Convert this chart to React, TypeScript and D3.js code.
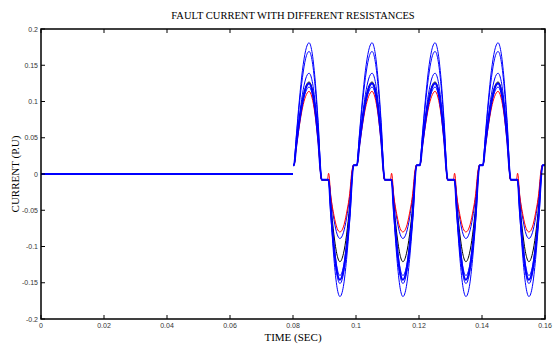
import React from 'react';
import * as d3 from 'd3';

// one cycle of the fault current (ms after each cycle start)
const phaseMs = [0, 0.3, 1, 2, 3, 4, 5.1, 6, 7, 8, 9.1, 11.3, 12, 13, 14, 14.9, 16, 17, 18, 19.2];
const phaseRedMs = [0, 0.3, 1, 2, 3, 4, 5.1, 6, 7, 8, 9.1, 10.9, 11.3, 12, 13, 14, 14.9, 16, 17, 18, 18.7, 19.2];

const curveA = [0.012, 0.012, 0.05, 0.101, 0.143, 0.17, 0.181, 0.169, 0.131, 0.071, -0.008, -0.008, -0.056, -0.117, -0.157, -0.169, -0.155, -0.118, -0.065, 0.012];
const curveB = [0.012, 0.012, 0.048, 0.095, 0.133, 0.159, 0.169, 0.158, 0.122, 0.066, -0.008, -0.008, -0.051, -0.105, -0.14, -0.151, -0.138, -0.105, -0.057, 0.012];
const curveC = [0.012, 0.012, 0.041, 0.079, 0.11, 0.131, 0.139, 0.13, 0.1, 0.053, -0.008, -0.008, -0.048, -0.097, -0.13, -0.14, -0.128, -0.097, -0.052, 0.012];
const curveBlack = [0.012, 0.012, 0.038, 0.073, 0.101, 0.12, 0.127, 0.119, 0.091, 0.048, -0.008, -0.008, -0.042, -0.084, -0.112, -0.121, -0.11, -0.084, -0.044, 0.012];
const curveE = [0.012, 0.012, 0.037, 0.069, 0.096, 0.113, 0.12, 0.112, 0.086, 0.046, -0.008, -0.008, -0.032, -0.063, -0.083, -0.089, -0.081, -0.061, -0.031, 0.012];
const curveRed = [0.012, 0.012, 0.035, 0.066, 0.091, 0.107, 0.114, 0.106, 0.082, 0.043, -0.008, -0.008, 0.001, -0.03, -0.057, -0.075, -0.08, -0.073, -0.054, -0.027, 0.004, 0.012];
const curveThick = [0.012, 0.012, 0.038, 0.072, 0.099, 0.118, 0.125, 0.117, 0.09, 0.048, -0.008, -0.008, -0.05, -0.101, -0.136, -0.146, -0.133, -0.102, -0.055, 0.012];

const faultTime = 0.08;
const cycleStarts = [0.08, 0.1, 0.12, 0.14];
const endTime = 0.16;

const xTicks = [0, 0.02, 0.04, 0.06, 0.08, 0.1, 0.12, 0.14, 0.16];
const yTicks = [0.2, 0.15, 0.1, 0.05, 0, -0.05, -0.1, -0.15, -0.2];

const series = [
  { values: curveA, phase: phaseMs, color: '#0000ff', width: 1 },
  { values: curveB, phase: phaseMs, color: '#0000ff', width: 1 },
  { values: curveC, phase: phaseMs, color: '#0000ff', width: 1 },
  { values: curveE, phase: phaseMs, color: '#0000ff', width: 1 },
  { values: curveBlack, phase: phaseMs, color: '#000000', width: 1 },
  { values: curveRed, phase: phaseRedMs, color: '#ff0000', width: 1 },
  { values: curveThick, phase: phaseMs, color: '#0000ff', width: 2 },
];

const W = 554;
const H = 345;
const margin = { top: 29, right: 9, bottom: 26, left: 41 };

export default function App() {
  const x = d3.scaleLinear().domain([0, 0.16]).range([margin.left, W - margin.right]);
  const y = d3.scaleLinear().domain([-0.2, 0.2]).range([H - margin.bottom, margin.top]);

  const line = d3.line<[number, number]>()
    .x(d => x(d[0]))
    .y(d => y(d[1]))
    .curve(d3.curveMonotoneX);

  const preFault = d3.line<[number, number]>().x(d => x(d[0])).y(d => y(d[1]))([[0, 0], [faultTime, 0]]);

  const buildPoints = (values: number[], phase: number[]) => {
    const pts: [number, number][] = [];
    cycleStarts.forEach(s => {
      phase.forEach((p, i) => pts.push([s + p / 1000, values[i]]));
    });
    pts.push([endTime, values[0]]);
    return pts;
  };

  const x0 = x(0), x1 = x(0.16), y0 = y(-0.2), y1 = y(0.2);
  const tickLen = 4;
  const tickFont = { fontFamily: 'Liberation Sans, Arial, sans-serif', fontSize: 7, fill: '#333' };
  const serif = { fontFamily: 'Liberation Serif, Times New Roman, serif', fontSize: 11 };

  return (
    <div style={{ position: 'fixed', left: 0, top: 0 }}>
      <svg width={W} height={H} style={{ display: 'block', background: '#fff' }}>
        <text x={(x0 + x1) / 2} y={19} textAnchor="middle" style={{ ...serif, fontSize: 10.5 }}>
          FAULT CURRENT WITH DIFFERENT RESISTANCES
        </text>

        {/* traces */}
        <path d={preFault || ''} fill="none" stroke="#0000ff" strokeWidth={2} />
        {series.map((s, i) => (
          <path key={i} d={line(buildPoints(s.values, s.phase)) || ''}
            fill="none" stroke={s.color} strokeWidth={s.width} strokeLinejoin="round" />
        ))}

        {/* box */}
        <rect x={x0} y={y1} width={x1 - x0} height={y0 - y1} fill="none" stroke="#000" strokeWidth={1.5} />

        {xTicks.map(t => (
          <g key={'x' + t}>
            <line x1={x(t)} x2={x(t)} y1={y0} y2={y0 - tickLen} stroke="#000" strokeWidth={1} />
            <line x1={x(t)} x2={x(t)} y1={y1} y2={y1 + tickLen} stroke="#000" strokeWidth={1} />
            <text x={x(t)} y={y0 + 8.5} textAnchor="middle" style={tickFont}>{String(t)}</text>
          </g>
        ))}
        {yTicks.map(t => (
          <g key={'y' + t}>
            <line x1={x0} x2={x0 + tickLen} y1={y(t)} y2={y(t)} stroke="#000" strokeWidth={1} />
            <line x1={x1} x2={x1 - tickLen} y1={y(t)} y2={y(t)} stroke="#000" strokeWidth={1} />
            <text x={x0 - 3} y={y(t) + 2.5} textAnchor="end" style={tickFont}>{String(t)}</text>
          </g>
        ))}

        <text x={(x0 + x1) / 2} y={340.5} textAnchor="middle" style={serif}>
          TIME (SEC)
        </text>
        <text transform={`translate(19,${(y0 + y1) / 2}) rotate(-90)`} textAnchor="middle" style={serif}>
          CURRENT (P.U)
        </text>
      </svg>
    </div>
  );
}
